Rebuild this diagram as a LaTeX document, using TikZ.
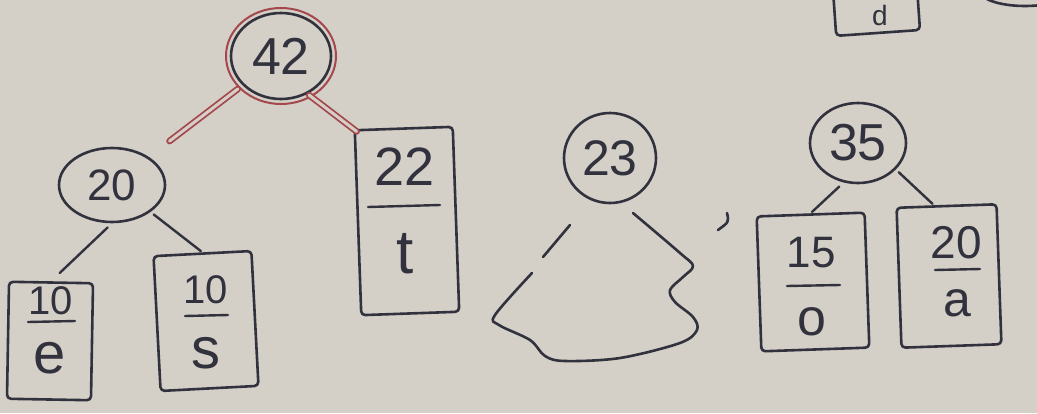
\documentclass[tikz,border=0pt]{standalone}
\usepackage{fontspec}
\setmainfont{Liberation Sans}
\usetikzlibrary{shapes.geometric}
\definecolor{paper}{RGB}{212,208,199}
\definecolor{ink}{RGB}{50,50,62}
\definecolor{redink}{RGB}{165,72,78}
\newcommand\fs[1]{\fontsize{#1}{#1}\selectfont}
\begin{document}
\begin{tikzpicture}[x=1pt,y=-1pt, line cap=round, line join=round,
  inkline/.style={draw=ink, line width=2.6pt},
  wnode/.style={ellipse, inkline, inner sep=0pt, text=ink},
  leaf/.style={rectangle, inkline, rounded corners=4pt, inner sep=0pt},
  txt/.style={inner sep=0pt, text=ink, anchor=center},
  bar/.style={draw=ink, line width=2.4pt},
  edge/.style={draw=ink, line width=2.4pt},
  redge/.style={draw=redink, double=paper, double distance=3pt, line width=1.8pt}]
\fill[paper] (0,0) rectangle (1037,413);
\useasboundingbox (0,0) rectangle (1037,413);
% ---------- left tree
\node[wnode, minimum width=100pt, minimum height=86pt, font=\fs{52}] (n42) at (281,56) {42};
\draw[redink, line width=2pt] (n42.center) ellipse [x radius=55, y radius=48];
\node[wnode, minimum width=106pt, minimum height=74pt, font=\fs{44}] (n20) at (112,185) {20};
% leaf e
\node[leaf, minimum width=84pt, minimum height=117pt, rotate=-1] (e) at (50,341) {};
\node[txt, font=\fs{40}] (e1) at (51,301) {10};
\draw[bar] (28,322) -- (75,321);
\node[txt, font=\fs{58}] (e2) at (50,358) {e};
% leaf s
\node[leaf, minimum width=98pt, minimum height=135pt, rotate=3] (s) at (206,321) {};
\node[txt, font=\fs{40}] (s1) at (206,290) {10};
\draw[bar] (185,316) -- (228,315);
\node[txt, font=\fs{58}] (s2) at (206,353) {s};
% leaf t
\node[leaf, minimum width=98pt, minimum height=185pt, rotate=2] (t) at (407,221) {};
\node[txt, font=\fs{54}] (t1) at (405,167) {22};
\draw[bar] (368,207) -- (440,205);
\node[txt, font=\fs{62}] (t2) at (405,254) {t};
\draw[redge, shorten <=6pt, shorten >=26pt] (n42) -- (n20);
\draw[redge, shorten <=2pt, shorten >=-4pt] (n42.-55) -- (t.north west);
\draw[edge, shorten <=6pt, shorten >=12pt] (n20.south) -- (e.north);
\draw[edge, shorten <=4pt, shorten >=2pt] (n20.-35) -- (s.north);
% ---------- middle subtree
\node[wnode, minimum width=92pt, minimum height=90pt, font=\fs{50}] (n23) at (610,158) {23};
\coordinate (bl) at (570,225);
\coordinate (br) at (633,213);
\draw[inkline] plot[smooth, tension=0.6] coordinates {(bl) (543,257)};
\draw[inkline] plot[smooth, tension=0.55] coordinates {(532,273) (495,315) (499,325) (530,340) (545,356) (565,361) (620,358) (680,343) (697,330) (693,317) (675,302) (670,290) (683,277) (693,266) (680,253) (br)};
\coordinate (cm) at (727,213);
\draw[inkline] (cm) .. controls (729,222) .. (718,230);
% ---------- right tree
\node[wnode, minimum width=96pt, minimum height=80pt, font=\fs{52}] (n35) at (858,143) {35};
% leaf o
\node[leaf, minimum width=108pt, minimum height=135pt, rotate=2] (o) at (813,282) {};
\node[txt, font=\fs{44}] (o1) at (811,253) {15};
\draw[bar] (787,286) -- (840,285);
\node[txt, font=\fs{52}] (o2) at (812,322) {o};
% leaf a
\node[leaf, minimum width=100pt, minimum height=140pt, rotate=2] (a) at (949,276) {};
\node[txt, font=\fs{46}] (a1) at (956,243) {20};
\draw[bar] (935,270) -- (980,269);
\node[txt, font=\fs{50}] (a2) at (957,303) {a};
\draw[edge, shorten <=6pt, shorten >=2pt] (n35.-110) -- (o.north);
\draw[edge, shorten <=4pt, shorten >=2pt] (n35.-35) -- (a.100);
% ---------- partial shapes at the top edge
\node[leaf, minimum width=84pt, minimum height=60pt, rotate=4] (d) at (876,3) {};
\node[txt, font=\fs{28}] (d1) at (880,15) {d};
\node[ellipse, inkline, minimum width=90pt, minimum height=30pt] (top) at (1025,-9) {};
\end{tikzpicture}
\end{document}
